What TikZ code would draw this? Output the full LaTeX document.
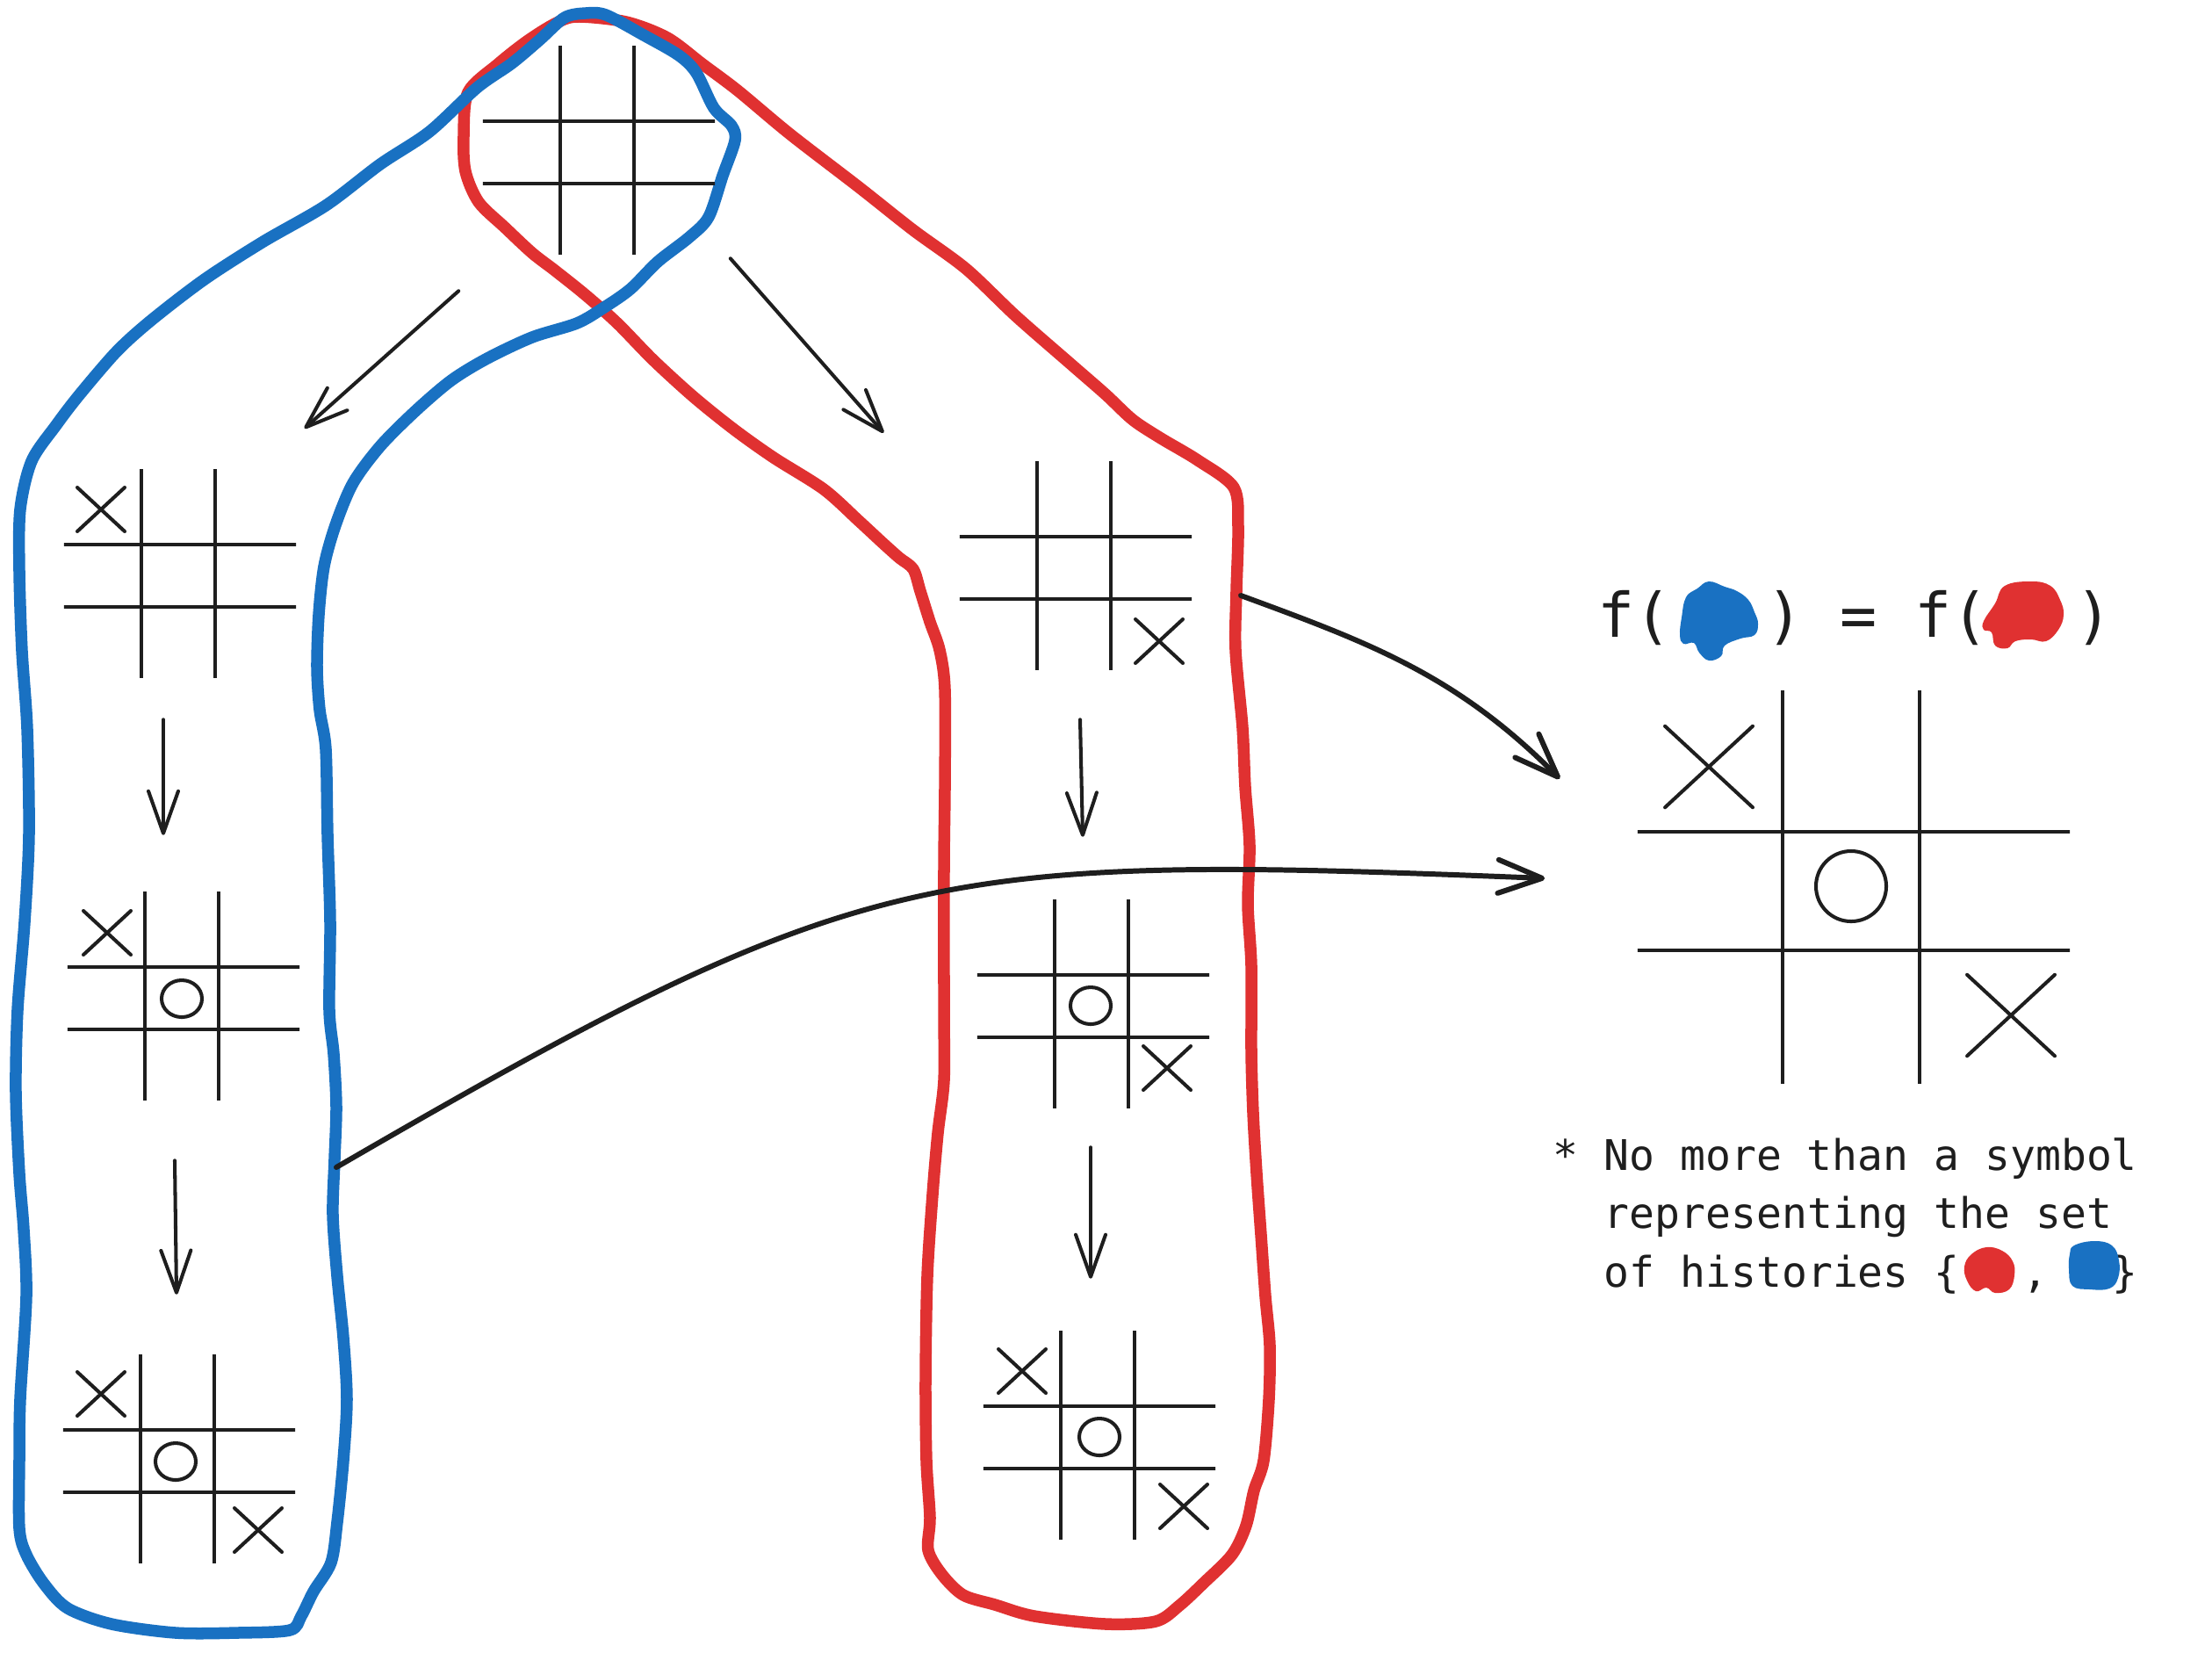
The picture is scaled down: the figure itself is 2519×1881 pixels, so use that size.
\documentclass[tikz,border=0pt]{standalone}
\usepackage{fontspec}
\newfontfamily\sketchfont{DejaVu Sans Mono}
\usepackage{tikz}
\usetikzlibrary{arrows.meta,calc,positioning}
\definecolor{ink}{HTML}{1E1E1E}
\definecolor{hblue}{HTML}{1971C2}
\definecolor{hred}{HTML}{E03131}

\begin{document}
\begin{tikzpicture}
		[x=0.01cm, y=-0.01cm, line cap=round, line join=round,
		ln/.style={draw=ink, line width=1.15pt},
		board/.style={inner sep=0pt, minimum width=2.64cm, minimum height=2.37cm,
			path picture={
				\coordinate (nw) at (path picture bounding box.north west);
				\coordinate (se) at (path picture bounding box.south east);
				\coordinate (g1) at ($(nw)!.335!(se)$);
				\coordinate (g2) at ($(nw)!.652!(se)$);
				\coordinate (h1) at ($(nw)!.36!(se)$);
				\coordinate (h2) at ($(nw)!.66!(se)$);
				\draw[ln] (g1 |- nw) -- (g1 |- se) (g2 |- nw) -- (g2 |- se)
					(nw |- h1) -- (se |- h1) (nw |- h2) -- (se |- h2);
			}},
		bigboard/.style={board, minimum width=4.92cm, minimum height=4.47cm},
		arr/.style={ln, -{Straight Barb[length=4.8mm, width=3.4mm, round]}},
		bigarr/.style={draw=ink, line width=1.7pt, -{Straight Barb[length=5mm, width=3.8mm, round]}},
		hist/.style={line width=0.135cm},
		txt/.style={inner sep=0pt, text=ink, font=\sketchfont\fontsize{13.66}{18.8}\selectfont},
		big/.style={inner sep=0pt, text=ink, font=\sketchfont\fontsize{19.9}{24}\selectfont},
		pics/xm/.style={code={\draw[ln] (-27,-25) -- (27,25) (-27,25) -- (27,-25);}}]

		\path[use as bounding box, fill=white] (0,0) rectangle (2519,1881);

		% histories
		\draw[hist, hred] plot[smooth cycle, tension=0.5] coordinates {
			(657,19) (713,25) (760,43) (800,73) (840,103) (900,153) (978,213) (1040,262)
			(1100,306) (1157,360) (1220,415) (1259,449) (1290,478) (1322,499) (1364,524)
			(1405,555) (1410,600) (1408,673) (1407,740) (1415,829) (1418,896) (1423,963)
			(1421,1030) (1425,1100) (1425,1197) (1427,1267) (1431,1336) (1436,1406)
			(1441,1476) (1446,1532) (1445,1593) (1439,1663) (1428,1697) (1419,1737)
			(1403,1770) (1371,1802) (1343,1828) (1316,1846) (1259,1849) (1178,1840)
			(1133,1827) (1097,1816) (1073,1793) (1057,1765) (1059,1728) (1055,1663)
			(1054,1569) (1056,1453) (1062,1360) (1068,1290) (1075,1230) (1075,1150)
			(1075,986) (1076,896) (1076,785) (1070,740) (1059,708) (1048,673) (1040,648)
			(1024,635) (1005,618) (978,593) (938,557) (881,521) (836,489) (790,452)
			(744,410) (703,368) (667,336) (632,308) (606,288) (575,259) (545,230)
			(530,195) (528,155) (533,105) (567,73) (600,47) (632,27)};

		\draw[hist, hblue] plot[smooth cycle, tension=0.5] coordinates {
			(643,20) (667,15) (690,17) (733,40) (773,63) (793,83) (813,123) (833,143)
			(837,160) (823,200) (807,247) (785,270) (749,298) (718,329) (688,350)
			(657,368) (606,384) (555,408) (514,433) (473,468) (433,508) (402,550)
			(382,598) (369,645) (363,700) (361,760) (364,808) (371,853) (373,950)
			(376,1050) (375,1150) (380,1200) (383,1260) (381,1320) (379,1383) (384,1453)
			(391,1523) (395,1593) (391,1663) (384,1733) (377,1779) (357,1812) (343,1840)
			(330,1856) (270,1859) (200,1859) (127,1849) (77,1831) (50,1803) (30,1770)
			(22,1740) (22,1663) (23,1593) (30,1476) (27,1400) (22,1336) (18,1243)
			(20,1150) (28,1050) (33,950) (31,830) (25,741) (22,650) (23,580) (36,525)
			(64,484) (90,450) (133,400) (173,364) (233,318) (300,275) (371,234)
			(433,187) (489,150) (543,100) (583,72) (615,45)};

		% boards
		\node[board] (b0) at (682,171) {};
		\node[board] (b1) at (205,653) {};
		\node[board] (b2) at (209,1134) {};
		\node[board] (b3) at (204,1661) {};
		\node[board] (b4) at (1225,644) {};
		\node[board] (b5) at (1245,1143) {};
		\node[board] (b6) at (1252,1634) {};
		\node[bigboard] (bf) at (2111,1010) {};

		\pic at ($(b1.center)+(-90,-73)$) {xm};

		\pic at ($(b2.center)+(-87,-72)$) {xm};
		\draw[ln] ($(b2.center)+(-2,3)$) ellipse [x radius=0.23cm, y radius=0.21cm];

		\pic at ($(b3.center)+(-89,-74)$) {xm};
		\draw[ln] ($(b3.center)+(-4,3)$) ellipse [x radius=0.23cm, y radius=0.21cm];
		\pic at ($(b3.center)+(90,81)$) {xm};

		\pic at ($(b4.center)+(95,86)$) {xm};

		\draw[ln] ($(b5.center)+(-3,2)$) ellipse [x radius=0.23cm, y radius=0.21cm];
		\pic at ($(b5.center)+(84,73)$) {xm};

		\pic at ($(b6.center)+(-88,-73)$) {xm};
		\draw[ln] ($(b6.center)+(0,2)$) ellipse [x radius=0.23cm, y radius=0.21cm];
		\pic at ($(b6.center)+(96,81)$) {xm};

		\pic[scale=1.85] at ($(bf.center)+(-165,-137)$) {xm};
		\draw[ln] ($(bf.center)+(-3,-1)$) circle [radius=0.4cm];
		\pic[scale=1.85] at ($(bf.center)+(179,146)$) {xm};

		% moves
		\draw[arr] ([shift={(-27,41)}]b0.south west) -- ([shift={(9,-46)}]b1.north east);
		\draw[arr] ([shift={(17,4)}]b0.south east) -- ([shift={(-86,-32)}]b4.north west);
		\draw[arr] ([shift={(-19,47)}]b1.south) -- ([shift={(-23,-64)}]b2.north);
		\draw[arr] ([shift={(-10,68)}]b2.south) -- ([shift={(-3,-68)}]b3.north);
		\draw[arr] ([shift={(5,56)}]b4.south) -- ([shift={(-12,-71)}]b5.north);
		\draw[arr] ([shift={(-3,44)}]b5.south) -- ([shift={(-10,-59)}]b6.north);

		\coordinate (rc) at (1413,678);
		\coordinate (bc) at (383,1329);
		\draw[bigarr] (rc) .. controls +(147,54) and +(-117,-118) .. ([shift={(-88,101)}]bf.north west);
		\draw[bigarr] (bc) .. controls +(600,-348) and +(-700,-28) .. ([shift={(-105,-10)}]bf.west);

		% f( ) = f( )
		\node[big, anchor=base west] (fl) at (1819,725) {f(};
		\node[big, anchor=base west] (fm) at (2011,725) {) = f(};
		\node[big, anchor=base west] (fr) at (2363,725) {)};
		\fill[hblue] plot[smooth cycle, tension=0.7] coordinates {
			(1920,680) (1933,670) (1946,662) (1964,668) (1978,673) (1991,683) (1998,697)
			(2002,710) (1998,723) (1982,727) (1964,735) (1960,747) (1946,752) (1935,743)
			(1929,732) (1917,733) (1913,723) (1915,703)};
		\fill[hred] plot[smooth cycle, tension=0.7] coordinates {
			(2259,707) (2272,687) (2283,667) (2313,662) (2335,667) (2346,683) (2350,700)
			(2344,717) (2330,730) (2313,728) (2295,730) (2286,738) (2272,735) (2268,720)
			(2259,717)};

		% note
		\node[txt, anchor=base west] (l1) at (1768,1332) {*~No more than a symbol};
		\node[txt, anchor=base west] (l2) at (1826,1398) {representing the set};
		\node[txt, anchor=base west] (l3) at (1826,1465) {of histories \{~~\kern0.3em,\kern-0.3em~~~\}};
		\fill[hred] plot[smooth cycle, tension=0.7] coordinates {
			(2245,1428) (2262,1420) (2280,1424) (2292,1436) (2294,1452) (2288,1468)
			(2272,1472) (2262,1466) (2250,1470) (2240,1458) (2237,1442)};
		\fill[hblue] plot[smooth cycle, tension=0.7] coordinates {
			(2362,1418) (2385,1413) (2405,1418) (2413,1435) (2412,1455) (2402,1467)
			(2380,1468) (2360,1464) (2356,1445) (2357,1428)};

\end{tikzpicture}
\end{document}
